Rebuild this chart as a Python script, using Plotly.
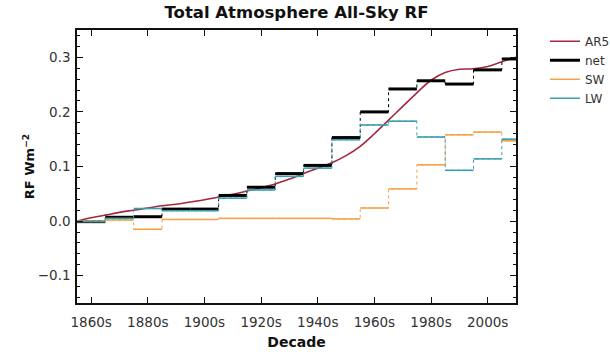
import plotly.graph_objects as go

# Decade bin edges (years)
edges = [1855, 1865, 1875, 1885, 1895, 1905, 1915, 1925, 1935, 1945,
         1955, 1965, 1975, 1985, 1995, 2005, 2010]

net = [-0.001, 0.007, 0.008, 0.022, 0.022, 0.047, 0.062, 0.087, 0.102, 0.153,
       0.200, 0.242, 0.257, 0.251, 0.277, 0.297]
sw = [0.000, 0.002, -0.015, 0.003, 0.003, 0.005, 0.005, 0.005, 0.005, 0.004,
      0.024, 0.059, 0.103, 0.158, 0.163, 0.147]
lw = [-0.001, 0.005, 0.023, 0.019, 0.019, 0.042, 0.057, 0.082, 0.097, 0.149,
      0.176, 0.183, 0.154, 0.093, 0.114, 0.150]

ar5_years = [1855, 1860, 1865, 1870, 1875, 1880, 1885, 1890, 1895, 1900,
             1905, 1910, 1915, 1920, 1925, 1930, 1935, 1940, 1945, 1950,
             1955, 1960, 1965, 1970, 1975, 1980, 1985, 1990, 1995, 2000,
             2005, 2010]
ar5 = [0.000, 0.006, 0.011, 0.016, 0.020, 0.024, 0.028, 0.031, 0.035, 0.039,
       0.044, 0.049, 0.055, 0.061, 0.068, 0.077, 0.087, 0.097, 0.107, 0.120,
       0.137, 0.160, 0.185, 0.210, 0.235, 0.258, 0.272, 0.278, 0.279, 0.283,
       0.292, 0.300]

tick_years = [1860, 1880, 1900, 1920, 1940, 1960, 1980, 2000]
tick_text = ["1860s", "1880s", "1900s", "1920s", "1940s", "1960s", "1980s", "2000s"]

fig = go.Figure()


def add_step(vals, color, width, name):
    # dotted connectors (step)
    fig.add_trace(go.Scatter(x=edges, y=vals + [vals[-1]], mode="lines",
                             line=dict(shape="hv", color=color, width=1, dash="dot"),
                             showlegend=False, hoverinfo="skip"))
    xs, ys = [], []
    for i, v in enumerate(vals):
        xs += [edges[i], edges[i + 1], None]
        ys += [v, v, None]
    fig.add_trace(go.Scatter(x=xs, y=ys, mode="lines", name=name,
                             line=dict(color=color, width=width)))


fig.add_trace(go.Scatter(x=ar5_years, y=ar5, mode="lines", name="AR5",
                         line=dict(color="#a3283f", width=1.6, shape="spline")))
add_step(net, "#000000", 3, "net")
add_step(sw, "#f5a34a", 1.6, "SW")
add_step(lw, "#3d9fae", 1.6, "LW")

fig.update_layout(
    width=610, height=352,
    margin=dict(l=77, r=94, t=30, b=49, autoexpand=False),
    paper_bgcolor="white", plot_bgcolor="white",
    font=dict(family="DejaVu Sans", size=12, color="#222"),
    title=dict(text="<b>Total Atmosphere All-Sky RF</b>", x=(77 + 516) / 2 / 610,
               xanchor="center", y=1 - 12 / 352, yanchor="middle",
               font=dict(size=16.5, color="#111")),
    legend=dict(x=1.066, y=1.012, xanchor="left", yanchor="top",
                font=dict(size=12, color="#333"), bgcolor="rgba(0,0,0,0)",
                tracegroupgap=0, itemwidth=30),
    xaxis=dict(range=[1855, 2010], tickvals=tick_years, ticktext=tick_text,
               ticks="inside", ticklen=6, tickwidth=1.2, tickcolor="#111",
               showline=True, linecolor="#111", linewidth=1.5, mirror="ticks",
               showgrid=False, zeroline=False, ticklabelstandoff=6,
               title=dict(text="<b>Decade</b>", font=dict(size=14, color="#111"), standoff=8),
               tickfont=dict(size=13.5, color="#333")),
    yaxis=dict(range=[-0.15, 0.35], tickvals=[-0.1, 0.0, 0.1, 0.2, 0.3],
               tickformat=".1f",
               ticks="inside", ticklen=6, tickwidth=1.2, tickcolor="#111",
               showline=True, linecolor="#111", linewidth=1.5, mirror="ticks",
               showgrid=False, zeroline=False, ticklabelstandoff=2,
               minor=dict(ticks="inside", ticklen=3, tickwidth=1, tickcolor="#111",
                          dtick=0.02, tick0=0, showgrid=False),
               title=dict(text="<b>RF Wm<sup>−2</sup></b>", font=dict(size=13, color="#111"), standoff=0),
               tickfont=dict(size=13.5, color="#333")),
)

fig.write_html("out.html")
